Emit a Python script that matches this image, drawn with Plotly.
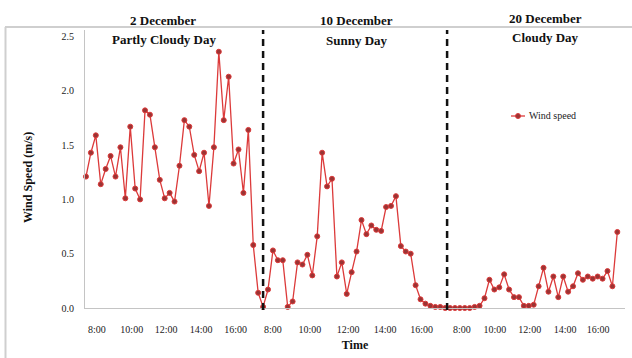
import plotly.graph_objects as go

# Wind speed (m/s), one reading per sample across the three measurement days
wind_speed = [
    # 2 December - partly cloudy
    1.21, 1.43, 1.59, 1.14, 1.28, 1.40, 1.21, 1.48, 1.01, 1.67,
    1.10, 1.00, 1.82, 1.78, 1.48, 1.18, 1.01, 1.06, 0.98, 1.31,
    1.73, 1.67, 1.41, 1.26, 1.43, 0.94, 1.48, 2.36, 1.73, 2.13,
    1.33, 1.46, 1.06, 1.64, 0.58, 0.14, 0.01,
    # 10 December - sunny
    0.17, 0.53, 0.44, 0.44, 0.01, 0.06, 0.42, 0.40, 0.49, 0.30,
    0.66, 1.43, 1.12, 1.19, 0.29, 0.42, 0.13, 0.33, 0.52, 0.81,
    0.68, 0.76, 0.72, 0.71, 0.93, 0.94, 1.03, 0.57, 0.52, 0.50,
    0.21, 0.08, 0.04, 0.02, 0.01, 0.01, 0.00,
    # 20 December - cloudy
    0.00, 0.00, 0.00, 0.00, 0.00, 0.01, 0.02, 0.09, 0.26, 0.17,
    0.19, 0.31, 0.17, 0.10, 0.10, 0.02, 0.02, 0.03, 0.20, 0.37,
    0.15, 0.29, 0.10, 0.29, 0.15, 0.20, 0.32, 0.26, 0.29, 0.27,
    0.29, 0.27, 0.34, 0.20, 0.70,
]
sample_index = list(range(len(wind_speed)))

# Hour labels along the time axis (sample-index positions)
time_tick_pos = [2.2, 9.3, 16.3, 23.4, 30.4,
                 38.0, 45.5, 53.3, 60.8, 68.2,
                 76.4, 83.1, 90.2, 97.4, 104.1]
time_tick_text = ["8:00", "10:00", "12:00", "14:00", "16:00"] * 3

day_dates = ["2 December", "10 December", "20 December"]
day_conditions = ["Partly Cloudy Day", "Sunny Day", "Cloudy Day"]
day_breaks = [36.0, 73.4]

LINE_RED = "#dc3a3a"
MARKER_RED = "#9a3434"
SERIF = "Liberation Serif"

# plot-area geometry in pixels
W_FIG, H_FIG = 632, 358
L, R, T, B = 85, 625, 30, 308


def px_x(px):
    return (px - L) / (R - L)


def px_y(py):
    return (B - py) / (B - T)


fig = go.Figure()
fig.add_trace(go.Scatter(
    x=sample_index, y=wind_speed, mode="lines+markers", name="Wind speed",
    line=dict(color=LINE_RED, width=1.3),
    marker=dict(symbol="circle", size=5, color=MARKER_RED,
                line=dict(color=LINE_RED, width=1)),
    cliponaxis=False, showlegend=False,
))

shapes = []
# day separators
for xb in day_breaks:
    shapes.append(dict(type="line", xref="x", yref="paper", x0=xb, x1=xb,
                       y0=px_y(310), y1=px_y(30),
                       line=dict(color="#111111", width=2.5, dash="7px,5px")))
# frame lines
shapes.append(dict(type="line", xref="paper", yref="paper",
                   x0=px_x(5), x1=px_x(632), y0=px_y(27), y1=px_y(27),
                   line=dict(color="#cfcfcf", width=2)))
shapes.append(dict(type="line", xref="paper", yref="paper",
                   x0=px_x(5.5), x1=px_x(5.5), y0=px_y(358), y1=px_y(27),
                   line=dict(color="#cfcfcf", width=2)))
# legend key
shapes.append(dict(type="line", xref="paper", yref="paper",
                   x0=px_x(511), x1=px_x(525), y0=px_y(116), y1=px_y(116),
                   line=dict(color=LINE_RED, width=1.3)))
shapes.append(dict(type="circle", xref="paper", yref="paper",
                   x0=px_x(515.5), x1=px_x(520.5), y0=px_y(113.5), y1=px_y(118.5),
                   fillcolor=MARKER_RED, line=dict(color=LINE_RED, width=1)))

annotations = []
date_centers = [(163, 20.5), (356, 20.5), (545, 18.5)]
cond_centers = [(164, 39), (357, 40), (545, 37.5)]
for (cx, cy), txt in zip(date_centers, day_dates):
    annotations.append(dict(text=f"<b>{txt}</b>", xref="paper", yref="paper",
                            x=px_x(cx), y=px_y(cy), showarrow=False,
                            xanchor="center", yanchor="middle",
                            font=dict(family=SERIF, size=13, color="#111111")))
for (cx, cy), txt in zip(cond_centers, day_conditions):
    annotations.append(dict(text=f"<b>{txt}</b>", xref="paper", yref="paper",
                            x=px_x(cx), y=px_y(cy), showarrow=False,
                            xanchor="center", yanchor="middle",
                            font=dict(family=SERIF, size=13, color="#111111")))
annotations.append(dict(text="Wind speed", xref="paper", yref="paper",
                        x=px_x(527), y=px_y(116), showarrow=False,
                        xanchor="left", yanchor="middle",
                        font=dict(family=SERIF, size=10, color="#222222")))
annotations.append(dict(text="<b>Wind Speed (m/s)</b>", xref="paper", yref="paper",
                        x=px_x(28), y=px_y(178), showarrow=False, textangle=-90,
                        xanchor="center", yanchor="middle",
                        font=dict(family=SERIF, size=12, color="#111111")))

fig.update_layout(
    width=W_FIG, height=H_FIG,
    margin=dict(l=L, r=W_FIG - R, t=T, b=H_FIG - B),
    paper_bgcolor="white", plot_bgcolor="white",
    shapes=shapes, annotations=annotations,
    xaxis=dict(range=[-0.2, 109.56], showgrid=False, zeroline=False,
               showline=True, linecolor="#c4c4c4", linewidth=1, ticks="",
               tickmode="array", tickvals=time_tick_pos, ticktext=time_tick_text,
               tickfont=dict(family=SERIF, size=10, color="#222222"),
               ticklabelstandoff=12,
               title=dict(text="<b>Time</b>", standoff=6,
                          font=dict(family=SERIF, size=12, color="#111111"))),
    yaxis=dict(range=[0, 2.56], showgrid=False, zeroline=False,
               showline=True, linecolor="#c4c4c4", linewidth=1, ticks="",
               tickvals=[0, 0.5, 1.0, 1.5, 2.0, 2.5], tickformat=".1f",
               tickfont=dict(family=SERIF, size=10, color="#222222"),
               ticklabelstandoff=8),
)

fig.write_html("out.html")
